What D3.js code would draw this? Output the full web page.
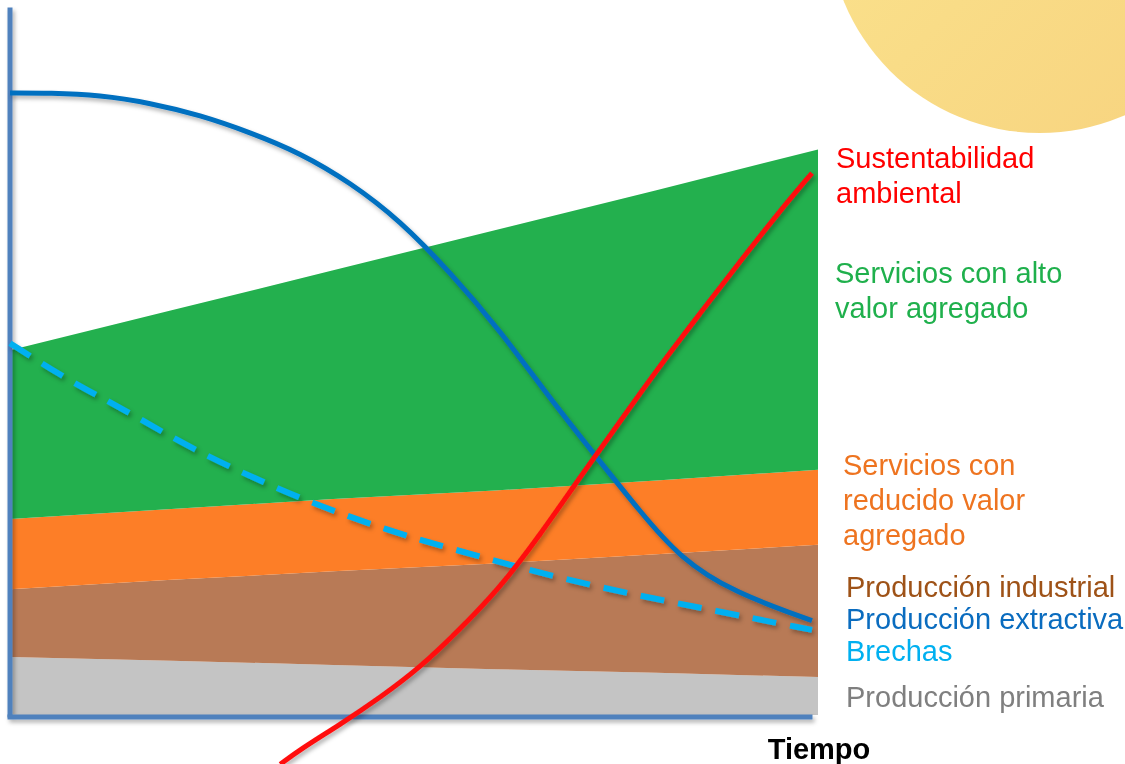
<!DOCTYPE html>
<html>
<head>
<meta charset="utf-8">
<script src="https://cdn.jsdelivr.net/npm/d3@7"></script>
<style>
  body { margin: 0; background: #fff; }
  svg { display: block; font-family: "Liberation Sans", Arial, sans-serif; }
</style>
</head>
<body>
<div id="chart"></div>
<script>
// stacked layers, read at time = 0..100
var tiempo = [0, 20, 40, 60, 80, 100];
var primaria = [8.1, 7.6, 7.0, 6.4, 5.9, 5.3];
var industrial = [9.5, 11.3, 13.1, 14.8, 16.6, 18.5];
var reducido = [9.8, 9.9, 10.1, 10.2, 10.3, 10.5];
var alto = [23.6, 27.8, 32.0, 36.4, 40.6, 44.8];

// lines (time, value)
var extractivaT = [0, 5, 11.2, 17.5, 23.7, 29.9, 36.2, 42.4, 48.6, 54.9, 61.1, 67.3, 72.9, 78.6, 83.5, 90.1, 100];
var extractivaV = [87.0, 87.0, 86.7, 85.6, 83.9, 81.5, 78.6, 74.5, 69.2, 61.9, 53.8, 44.3, 36.4, 28.4, 22.0, 17.2, 13.2];

var sustentT = [33.7, 36.2, 41.2, 46.1, 51.1, 56.1, 61.1, 66.1, 71.1, 76.1, 81.0, 86.0, 91.0, 96.0, 100];
var sustentV = [-6.9, -4.8, -1.3, 2.4, 6.6, 12.0, 17.8, 25.2, 33.3, 41.1, 48.8, 56.1, 63.4, 70.5, 75.8];

var brechasT = [0, 6.6, 11.2, 15.8, 22.8, 36.2, 47.8, 53.0, 63.2, 73.6, 86.0, 100];
var brechasV = [52.0, 47.3, 44.5, 41.7, 37.1, 30.1, 25.6, 23.9, 20.7, 17.8, 15.0, 11.9];

var capas = ["primaria", "industrial", "reducido", "alto"];
var coloresCapa = { primaria: "#c4c4c4", industrial: "#b87a56", reducido: "#fd7e27", alto: "#23b04e" };

var etiquetas = [
  { lines: ["Sustentabilidad", "ambiental"], color: "#ff0000", x: 836, y: 168 },
  { lines: ["Servicios con alto", "valor agregado"], color: "#1fb04c", x: 835, y: 283 },
  { lines: ["Servicios con", "reducido valor", "agregado"], color: "#ee7420", x: 843, y: 475 },
  { lines: ["Producción industrial"], color: "#9e5217", x: 846, y: 597 },
  { lines: ["Producción extractiva"], color: "#0a6cbf", x: 846, y: 629 },
  { lines: ["Brechas"], color: "#00b0f0", x: 846, y: 661 },
  { lines: ["Producción primaria"], color: "#7f7f7f", x: 846, y: 707 }
];

var W = 1125, H = 764;

var svg = d3.select("#chart").append("svg")
  .attr("width", W)
  .attr("height", H);

var defs = svg.append("defs");
var grad = defs.append("linearGradient")
  .attr("id", "sol")
  .attr("x1", "0%").attr("y1", "0%")
  .attr("x2", "100%").attr("y2", "100%");
grad.append("stop").attr("offset", "0%").attr("stop-color", "#fbe690");
grad.append("stop").attr("offset", "100%").attr("stop-color", "#f7d27e");

var sombra = defs.append("filter")
  .attr("id", "sombra")
  .attr("x", "-10%").attr("y", "-10%")
  .attr("width", "130%").attr("height", "130%");
sombra.append("feDropShadow")
  .attr("dx", 2).attr("dy", 3)
  .attr("stdDeviation", 2)
  .attr("flood-color", "#000")
  .attr("flood-opacity", 0.3);

// sun
svg.append("circle")
  .attr("cx", 1040)
  .attr("cy", -79)
  .attr("r", 212)
  .style("fill", "url(#sol)");

var x = d3.scaleLinear().domain([0, 100]).range([10, 812]);
var xArea = d3.scaleLinear().domain([0, 100]).range([10, 818]);
var y = d3.scaleLinear().domain([0, 100]).range([715, 0]);

// stacked areas
var tabla = tiempo.map(function(t, i) {
  return { t: t, primaria: primaria[i], industrial: industrial[i], reducido: reducido[i], alto: alto[i] };
});
var series = d3.stack().keys(capas)(tabla);

var area = d3.area()
  .x(function(d) { return xArea(d.data.t); })
  .y0(function(d) { return y(d[0]); })
  .y1(function(d) { return y(d[1]); });

svg.append("g")
  .selectAll("path")
  .data(series)
  .enter()
  .append("path")
  .attr("d", area)
  .style("fill", function(d) { return coloresCapa[d.key]; });

// axes (no ticks, just the lines)
var yEje = d3.scaleLinear().domain([0, 100]).range([717, 7]);
var xEje = d3.scaleLinear().domain([0, 100]).range([7, 812]);

var ejes = svg.append("g").attr("filter", "url(#sombra)");
ejes.append("g")
  .attr("transform", "translate(9.5,0)")
  .call(d3.axisLeft(yEje).tickValues([]).tickSizeOuter(0));
ejes.append("g")
  .attr("transform", "translate(0,716.5)")
  .call(d3.axisBottom(xEje).tickValues([]).tickSizeOuter(0));
ejes.selectAll(".domain")
  .style("stroke", "#4f81bd")
  .style("stroke-width", 5);

var linea = d3.line()
  .curve(d3.curveBasis)
  .x(function(d) { return x(d[0]); })
  .y(function(d) { return y(d[1]); });

function pares(ts, vs) {
  return ts.map(function(t, i) { return [t, vs[i]]; });
}

var lineas = svg.append("g").attr("filter", "url(#sombra)");

lineas.append("path")
  .datum(pares(brechasT, brechasV))
  .attr("d", linea)
  .style("fill", "none")
  .style("stroke", "#00b0f0")
  .style("stroke-width", 6)
  .style("stroke-dasharray", "24,14");

lineas.append("path")
  .datum(pares(extractivaT, extractivaV))
  .attr("d", linea)
  .style("fill", "none")
  .style("stroke", "#0070c0")
  .style("stroke-width", 5);

lineas.append("path")
  .datum(pares(sustentT, sustentV))
  .attr("d", linea)
  .style("fill", "none")
  .style("stroke", "#ff1010")
  .style("stroke-width", 5);

// labels
var lab = svg.append("g")
  .selectAll("text")
  .data(etiquetas)
  .enter()
  .append("text")
  .attr("x", function(d) { return d.x; })
  .attr("y", function(d) { return d.y; })
  .style("fill", function(d) { return d.color; })
  .style("font-size", "29px");

lab.selectAll("tspan")
  .data(function(d) { return d.lines.map(function(l) { return { l: l, x: d.x }; }); })
  .enter()
  .append("tspan")
  .attr("x", function(d) { return d.x; })
  .attr("dy", function(d, i) { return i == 0 ? 0 : 35; })
  .text(function(d) { return d.l; });

svg.append("text")
  .attr("x", 819)
  .attr("y", 759)
  .attr("text-anchor", "middle")
  .style("font-size", "29px")
  .style("font-weight", "bold")
  .style("fill", "#000")
  .text("Tiempo");
</script>
</body>
</html>
